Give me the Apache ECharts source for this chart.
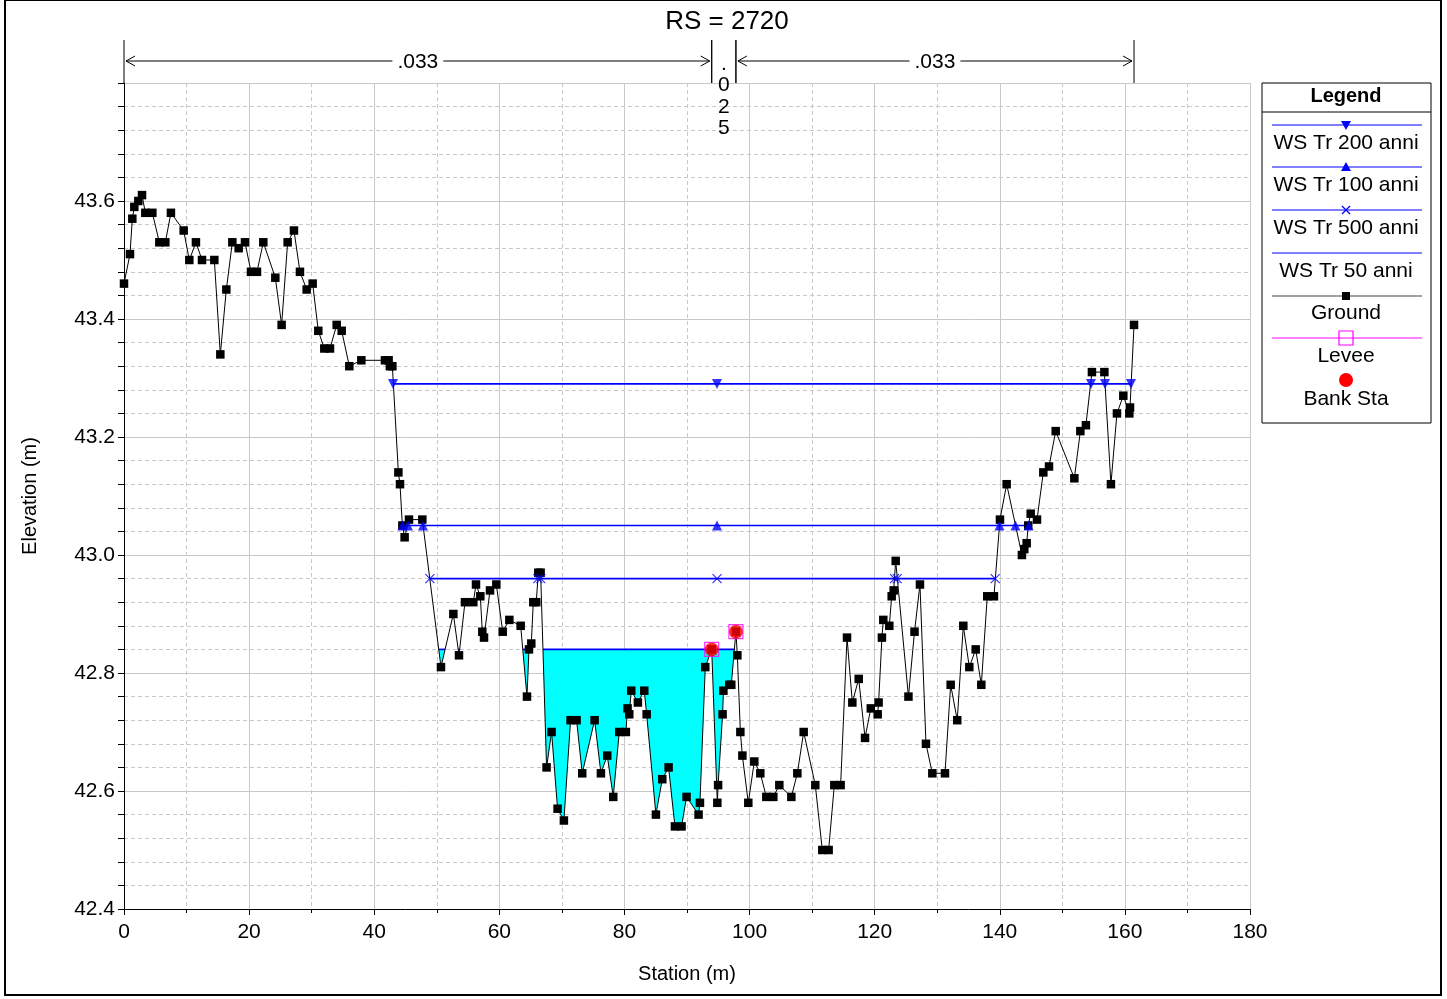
<!DOCTYPE html>
<html>
<head>
<meta charset="utf-8">
<title>RS = 2720</title>
<script src="https://cdn.jsdelivr.net/npm/echarts@6/dist/echarts.min.js"></script>
<style>
  html, body { margin: 0; padding: 0; background: #ffffff; }
  #chart { width: 1447px; height: 999px; }
</style>
</head>
<body>
<div id="chart"></div>
<script>
// Cross section RS 2720: ground survey points (station m, elevation m)
const STATIONS = [
  0, 0.96, 1.33, 1.65, 2.29, 2.88, 3.41, 4.53, 5.65, 6.61,
  7.5, 9.54, 10.44, 11.5, 12.47, 14.44, 15.4, 16.36, 17.32, 18.33,
  19.34, 20.3, 21.26, 22.27, 24.19, 25.2, 26.16, 27.17, 28.13, 29.2,
  30.16, 31.06, 32.02, 32.93, 34.0, 34.8, 36.02, 37.94, 41.72, 42.3,
  42.5, 42.9, 43.86, 44.12, 44.5, 44.86, 45.56, 47.69, 50.67, 52.65,
  53.55, 54.51, 55.84, 56.27, 56.96, 57.28, 57.55, 58.51, 59.52, 60.54,
  61.6, 63.41, 64.42, 64.74, 65.11, 65.43, 65.9, 66.23, 66.6, 67.55,
  68.35, 69.31, 70.32, 71.39, 72.35, 73.25, 75.23, 76.24, 77.25, 78.21,
  79.17, 80.23, 80.5, 80.77, 81.09, 82.15, 83.17, 83.55, 85.03, 86.05,
  87.06, 88.07, 89.13, 89.93, 91.85, 92.07, 92.92, 93.95, 94.85, 94.97,
  95.69, 95.82, 96.76, 97.08, 97.82, 98.05, 98.53, 98.85, 99.8, 100.76,
  101.72, 102.68, 103.8, 104.76, 106.68, 107.64, 108.65, 110.51, 111.63, 112.64,
  113.55, 114.56, 115.58, 116.43, 117.45, 118.46, 119.38, 120.48, 120.63, 121.16,
  121.38, 122.34, 122.72, 123.04, 123.36, 125.4, 126.37, 127.24, 128.2, 129.22,
  131.24, 132.15, 133.2, 134.17, 135.13, 136.15, 137.05, 138.0, 139.07, 140.03,
  141.1, 143.54, 143.92, 144.3, 144.55, 144.94, 145.95, 146.96, 147.87, 148.94,
  151.92, 152.88, 153.77, 154.73, 156.72, 157.77, 158.73, 159.75, 160.71, 160.82,
  161.46
];
const ELEVATIONS = [
  43.46, 43.51, 43.57, 43.59, 43.60, 43.61, 43.58, 43.58, 43.53, 43.53,
  43.58, 43.55, 43.50, 43.53, 43.50, 43.50, 43.34, 43.45, 43.53, 43.52,
  43.53, 43.48, 43.48, 43.53, 43.47, 43.39, 43.53, 43.55, 43.48, 43.45,
  43.46, 43.38, 43.35, 43.35, 43.39, 43.38, 43.32, 43.33, 43.33, 43.33,
  43.32, 43.32, 43.14, 43.12, 43.05, 43.03, 43.06, 43.06, 42.81, 42.90,
  42.83, 42.92, 42.92, 42.95, 42.93, 42.87, 42.86, 42.94, 42.95, 42.87,
  42.89, 42.88, 42.76, 42.84, 42.85, 42.92, 42.92, 42.97, 42.97, 42.64,
  42.70, 42.57, 42.55, 42.72, 42.72, 42.63, 42.72, 42.63, 42.66, 42.59,
  42.70, 42.70, 42.74, 42.73, 42.77, 42.75, 42.77, 42.73, 42.56, 42.62,
  42.64, 42.54, 42.54, 42.59, 42.56, 42.58, 42.81, 42.84, 42.58, 42.61,
  42.73, 42.77, 42.78, 42.78, 42.87, 42.83, 42.70, 42.66, 42.58, 42.65,
  42.63, 42.59, 42.59, 42.61, 42.59, 42.63, 42.70, 42.61, 42.50, 42.50,
  42.61, 42.61, 42.86, 42.75, 42.79, 42.69, 42.74, 42.73, 42.75, 42.86,
  42.89, 42.88, 42.93, 42.94, 42.99, 42.76, 42.87, 42.95, 42.68, 42.63,
  42.63, 42.78, 42.72, 42.88, 42.81, 42.84, 42.78, 42.93, 42.93, 43.06,
  43.12, 43.00, 43.01, 43.02, 43.05, 43.07, 43.06, 43.14, 43.15, 43.21,
  43.13, 43.21, 43.22, 43.31, 43.31, 43.12, 43.24, 43.27, 43.24, 43.25,
  43.39
];

// Bank stations and levees
const BANK_STA = [93.95, 97.82];
const BANK_ELEV = [42.84, 42.87];
const LEVEE_STA = [93.95, 97.82];
const LEVEE_ELEV = [42.84, 42.87];

// Manning's n subdivisions
const N_BREAKS = [0, 93.95, 97.82, 161.46];
const N_VALUES = ['.033', '.025', '.033'];

// Water surface profiles (elevation + marker stations along each WS line)
const WS200_ELEV = 43.29;
const WS200_MARKERS = [43.0, 94.8, 154.58, 156.82, 160.98];
const WS100_ELEV = 43.05;
const WS100_MARKERS = [44.5, 45.4, 47.8, 94.8, 139.96, 142.5, 144.6];
const WS500_ELEV = 42.96;
const WS500_MARKERS = [48.9, 66.16, 66.63, 94.8, 123.17, 123.6, 139.27];
const WS50_ELEV = 42.84;
const WS50_RIGHT_LIMIT = 97.82;   // right levee contains the 50-year flow

// Axis ranges
const X_MIN = 0, X_MAX = 180, X_STEP = 20;
const Y_MIN = 42.4, Y_MAX = 43.8, Y_STEP = 0.2;

const TITLE = 'RS = 2720';
const LEGEND_TITLE = 'Legend';
const LEGEND_LABELS = ['WS Tr 200 anni', 'WS Tr 100 anni', 'WS Tr 500 anni', 'WS Tr 50 anni', 'Ground', 'Levee', 'Bank Sta'];

const FONT = '"Liberation Sans", Arial, sans-serif';
const BLUE = '#0000ff';

// Wetted pockets below a water level: ground clipped at the level, split into polygons
function wetPolygons(xs, ys, level, xLimit) {
  const polys = [];
  let cur = null;
  const isWet = (y) => y <= level + 1e-9;
  for (let i = 0; i < xs.length; i++) {
    const x = xs[i], y = ys[i];
    if (x > xLimit + 1e-9) break;
    if (isWet(y)) {
      if (!cur) {
        cur = [];
        if (i > 0) {
          const x0 = xs[i - 1], y0 = ys[i - 1];
          const t = (y0 - level) / (y0 - y);
          cur.push([x0 + t * (x - x0), level]);
        } else {
          cur.push([x, level]);
        }
      }
      cur.push([x, y]);
    } else if (cur) {
      const x0 = xs[i - 1], y0 = ys[i - 1];
      const t = (level - y0) / (y - y0);
      cur.push([x0 + t * (x - x0), level]);
      polys.push(cur);
      cur = null;
    }
  }
  if (cur) {
    cur.push([cur[cur.length - 1][0], level]);
    polys.push(cur);
  }
  return polys;
}

const ws50Polys = wetPolygons(STATIONS, ELEVATIONS, WS50_ELEV, WS50_RIGHT_LIMIT);

const groundData = STATIONS.map((s, i) => [s, ELEVATIONS[i]]);
const wsLine = (markers, elev) => [[Math.min(...markers), elev], [Math.max(...markers), elev]];
const wsMarks = (markers, elev) => markers.map(s => [s, elev]);

const chart = echarts.init(document.getElementById('chart'), null, { renderer: 'canvas' });

// Legend drawn as a boxed column: sample line + marker above each label
const LG = { x: 1262, y: 83, w: 169, h: 340, lineX0: 1272, lineX1: 1422, cx: 1346 };
const LG_LINE_Y = [125, 167, 210, 253, 296, 338, 380];
const LG_TEXT_Y = [143, 185, 228, 271, 313, 356, 399];

function legendGraphics() {
  const els = [];
  els.push({ type: 'rect', shape: { x: LG.x, y: LG.y, width: LG.w, height: LG.h },
    style: { fill: '#ffffff', stroke: '#000000', lineWidth: 1 }, z: 100 });
  els.push({ type: 'line', shape: { x1: LG.x, y1: 112, x2: LG.x + LG.w, y2: 112 },
    style: { stroke: '#000000', lineWidth: 1 }, z: 101 });
  els.push({ type: 'text', x: LG.cx, y: 96, z: 101,
    style: { text: LEGEND_TITLE, font: 'bold 20px ' + FONT, fill: '#000', align: 'center', verticalAlign: 'middle' } });
  const lineColors = [BLUE, BLUE, BLUE, BLUE, '#404040', '#ff00ff', null];
  LEGEND_LABELS.forEach((label, i) => {
    const ly = LG_LINE_Y[i];
    if (lineColors[i]) {
      els.push({ type: 'line', shape: { x1: LG.lineX0, y1: ly, x2: LG.lineX1, y2: ly },
        style: { stroke: lineColors[i], lineWidth: 1.2 }, z: 101 });
    }
    const c = LG.cx;
    if (i === 0) {
      els.push({ type: 'polygon', shape: { points: [[c - 5, ly - 4], [c + 5, ly - 4], [c, ly + 5]] }, style: { fill: BLUE }, z: 102 });
    } else if (i === 1) {
      els.push({ type: 'polygon', shape: { points: [[c - 5, ly + 4], [c + 5, ly + 4], [c, ly - 5]] }, style: { fill: BLUE }, z: 102 });
    } else if (i === 2) {
      els.push({ type: 'polyline', shape: { points: [[c - 4, ly - 4], [c + 4, ly + 4]] }, style: { stroke: BLUE, lineWidth: 1.2 }, z: 102 });
      els.push({ type: 'polyline', shape: { points: [[c - 4, ly + 4], [c + 4, ly - 4]] }, style: { stroke: BLUE, lineWidth: 1.2 }, z: 102 });
    } else if (i === 4) {
      els.push({ type: 'rect', shape: { x: c - 4, y: ly - 4, width: 8, height: 8 }, style: { fill: '#000' }, z: 102 });
    } else if (i === 5) {
      els.push({ type: 'rect', shape: { x: c - 7, y: ly - 7, width: 14, height: 14 }, style: { fill: 'none', stroke: '#ff00ff', lineWidth: 1.2 }, z: 102 });
    } else if (i === 6) {
      els.push({ type: 'circle', shape: { cx: c, cy: ly, r: 7 }, style: { fill: '#ff0000' }, z: 102 });
    }
    els.push({ type: 'text', x: c, y: LG_TEXT_Y[i], z: 102,
      style: { text: label, font: '21px ' + FONT, fill: '#000', align: 'center', verticalAlign: 'middle' } });
  });
  return els;
}

// Manning's n bands above the plot: dimension arrows with n labels
function renderNBand(params, api) {
  const x0 = api.coord([api.value(0), Y_MAX])[0];
  const x1 = api.coord([api.value(1), Y_MAX])[0];
  const top = api.coord([api.value(0), Y_MAX])[1];
  const label = N_VALUES[api.value(2)];
  const yA = top - 22;
  const children = [];
  const stroke = { stroke: '#000', lineWidth: 1 };
  [x0, x1].forEach(x => children.push({ type: 'line', shape: { x1: x, y1: top - 43, x2: x, y2: top }, style: stroke }));
  if (x1 - x0 > 60) {
    children.push({ type: 'line', shape: { x1: x0 + 2, y1: yA, x2: x1 - 2, y2: yA }, style: stroke });
    children.push({ type: 'polyline', shape: { points: [[x0 + 11, yA - 5], [x0 + 2, yA], [x0 + 11, yA + 5]] }, style: Object.assign({ fill: null }, stroke) });
    children.push({ type: 'polyline', shape: { points: [[x1 - 11, yA - 5], [x1 - 2, yA], [x1 - 11, yA + 5]] }, style: Object.assign({ fill: null }, stroke) });
    children.push({ type: 'text', x: (x0 + x1) / 2, y: yA + 1,
      style: { text: label, font: '21px ' + FONT, fill: '#000', align: 'center', verticalAlign: 'middle',
               backgroundColor: '#fff', padding: [0, 5] } });
  } else {
    children.push({ type: 'text', x: (x0 + x1) / 2, y: top - 30,
      style: { text: label.split('').join('\n'), font: '21px ' + FONT, lineHeight: 21.5,
               fill: '#000', align: 'center', verticalAlign: 'top' } });
  }
  return { type: 'group', children };
}

// 50-year water: cyan fill with its surface line over each wet pocket
function renderWet(params, api) {
  const poly = ws50Polys[api.value(2)];
  const pts = poly.map(p => api.coord(p));
  const first = pts[0], last = pts[pts.length - 1];
  return {
    type: 'group',
    children: [
      { type: 'polygon', shape: { points: pts }, style: { fill: '#00ffff', stroke: null } },
      { type: 'line', shape: { x1: first[0], y1: first[1], x2: last[0], y2: last[1] }, style: { stroke: BLUE, lineWidth: 1.6 } }
    ]
  };
}

const xMarkPath = 'path://M0,0L10,10M10,0L0,10';

const option = {
  animation: false,
  backgroundColor: '#ffffff',
  grid: { left: 124, top: 83, width: 1126, height: 826, containLabel: false },
  xAxis: {
    type: 'value', min: X_MIN, max: X_MAX, interval: X_STEP,
    name: 'Station (m)', nameLocation: 'middle', nameGap: 55,
    nameTextStyle: { fontFamily: FONT, fontSize: 20, color: '#000' },
    axisLine: { show: true, onZero: false, lineStyle: { color: '#000', width: 1 } },
    axisTick: { show: true, length: 6, lineStyle: { color: '#000' } },
    minorTick: { show: true, splitNumber: 2, length: 4, lineStyle: { color: '#000' } },
    axisLabel: { fontFamily: FONT, fontSize: 21, color: '#000', margin: 13 },
    splitLine: { show: true, lineStyle: { color: '#c8c8c8', width: 1 } },
    minorSplitLine: { show: true, lineStyle: { color: '#c8c8c8', width: 1, type: [4, 3] } }
  },
  yAxis: {
    type: 'value', min: Y_MIN, max: Y_MAX, interval: Y_STEP,
    name: 'Elevation (m)', nameLocation: 'middle', nameGap: 84, nameRotate: 90,
    nameTextStyle: { fontFamily: FONT, fontSize: 20, color: '#000' },
    axisLine: { show: true, onZero: false, lineStyle: { color: '#000', width: 1 } },
    axisTick: { show: true, length: 6, lineStyle: { color: '#000' } },
    minorTick: { show: true, splitNumber: 5, length: 6, lineStyle: { color: '#000' } },
    axisLabel: { fontFamily: FONT, fontSize: 21, color: '#000', margin: 9, showMaxLabel: false,
                 formatter: v => v.toFixed(1) },
    splitLine: { show: true, lineStyle: { color: '#c8c8c8', width: 1 } },
    minorSplitLine: { show: true, lineStyle: { color: '#c8c8c8', width: 1, type: [4, 3] } }
  },
  graphic: [
    { type: 'rect', shape: { x: 5, y: 0, width: 1436, height: 995 }, style: { fill: 'none', stroke: '#000', lineWidth: 2 }, z: 200 },
    { type: 'text', x: 727, y: 22, z: 100,
      style: { text: TITLE, font: '26px ' + FONT, fill: '#000', align: 'center', verticalAlign: 'middle' } }
  ].concat(legendGraphics()),
  series: [
    {
      name: 'WS Tr 50 anni', type: 'custom', coordinateSystem: 'cartesian2d',
      renderItem: renderWet, encode: { x: 0, y: 1 }, z: 1, silent: true,
      data: ws50Polys.map((p, i) => [p[0][0], WS50_ELEV, i])
    },
    {
      name: 'n values', type: 'custom', coordinateSystem: 'cartesian2d', clip: false,
      renderItem: renderNBand, encode: { x: [0, 1] }, z: 5, silent: true,
      data: N_VALUES.map((v, i) => [N_BREAKS[i], N_BREAKS[i + 1], i])
    },
    { name: 'WS Tr 200 anni', type: 'line', data: wsLine(WS200_MARKERS, WS200_ELEV), symbol: 'none',
      lineStyle: { color: BLUE, width: 1.6 }, z: 2, silent: true },
    { name: 'WS Tr 100 anni', type: 'line', data: wsLine(WS100_MARKERS, WS100_ELEV), symbol: 'none',
      lineStyle: { color: BLUE, width: 1.6 }, z: 2, silent: true },
    { name: 'WS Tr 500 anni', type: 'line', data: wsLine(WS500_MARKERS, WS500_ELEV), symbol: 'none',
      lineStyle: { color: BLUE, width: 1.6 }, z: 2, silent: true },
    {
      name: 'Ground', type: 'line', data: groundData, showAllSymbol: true,
      symbol: 'rect', symbolSize: 8.5,
      lineStyle: { color: '#000', width: 1 }, itemStyle: { color: '#000' }, z: 3, silent: true
    },
    { name: 'WS Tr 200 anni marks', type: 'scatter', data: wsMarks(WS200_MARKERS, WS200_ELEV),
      symbol: 'triangle', symbolRotate: 180, symbolSize: [10, 10], itemStyle: { color: BLUE }, z: 4, silent: true },
    { name: 'WS Tr 100 anni marks', type: 'scatter', data: wsMarks(WS100_MARKERS, WS100_ELEV),
      symbol: 'triangle', symbolSize: [10, 10], itemStyle: { color: BLUE }, z: 4, silent: true },
    { name: 'WS Tr 500 anni marks', type: 'scatter', data: wsMarks(WS500_MARKERS, WS500_ELEV),
      symbol: xMarkPath, symbolSize: 9, itemStyle: { color: 'rgba(0,0,0,0)', borderColor: BLUE, borderWidth: 1.2 }, z: 4, silent: true },
    { name: 'Levee', type: 'scatter', data: LEVEE_STA.map((s, i) => [s, LEVEE_ELEV[i]]),
      symbol: 'rect', symbolSize: 14, itemStyle: { color: 'rgba(0,0,0,0)', borderColor: '#ff00ff', borderWidth: 1.2 }, z: 5, silent: true },
    { name: 'Bank Sta', type: 'scatter', data: BANK_STA.map((s, i) => [s, BANK_ELEV[i]]),
      symbol: 'circle', symbolSize: 14, itemStyle: { color: '#ff0000' }, z: 6, silent: true }
  ]
};

chart.setOption(option);
</script>
</body>
</html>
